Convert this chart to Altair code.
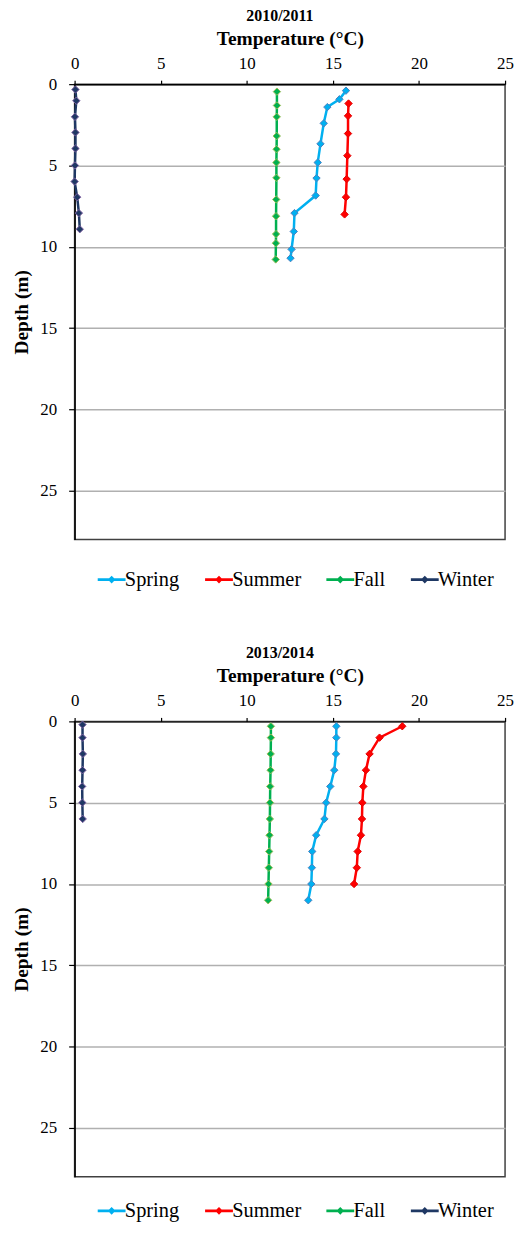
import altair as alt
import pandas as pd

seasons = ["Spring", "Summer", "Fall", "Winter"]
line_colors = ["#00B0F0", "#FF0000", "#00B050", "#1F3864"]
edge_colors = ["#4F81BD", "#E00000", "#9BBB59", "#8064A2"]
temp_ticks = [0, 5, 10, 15, 20, 25]
depth_ticks = [0, 5, 10, 15, 20, 25]

# ---- 2010/2011 ----
spring_a_depth = [0.4, 0.93, 1.41, 2.41, 3.67, 4.82, 5.78, 6.85, 7.93, 9.06, 10.16, 10.7]
spring_a_temp = [15.76, 15.38, 14.68, 14.47, 14.28, 14.12, 14.05, 14.0, 12.77, 12.73, 12.6, 12.54]
summer_a_depth = [1.19, 1.95, 3.04, 4.4, 5.84, 6.95, 8.01]
summer_a_temp = [15.91, 15.88, 15.88, 15.84, 15.8, 15.76, 15.68]
fall_a_depth = [0.46, 1.31, 2.01, 3.19, 4.0, 4.82, 5.76, 7.09, 8.12, 9.22, 9.78, 10.78]
fall_a_temp = [11.75, 11.75, 11.74, 11.74, 11.73, 11.72, 11.72, 11.71, 11.7, 11.7, 11.69, 11.68]
winter_a_depth = [0.33, 1.02, 2.01, 2.97, 3.96, 5.0, 5.99, 6.95, 7.93, 8.92]
winter_a_temp = [0.05, 0.1, 0.02, 0.05, 0.05, 0.02, 0.0, 0.15, 0.25, 0.3]

# ---- 2013/2014 ----
spring_b_depth = [0.3, 1, 2, 3, 4, 5, 6, 7, 8, 9, 10, 11]
spring_b_temp = [15.2, 15.2, 15.18, 15.08, 14.85, 14.61, 14.51, 14.03, 13.8, 13.78, 13.75, 13.57]
summer_b_depth = [0.3, 1, 2, 3, 4, 5, 6, 7, 8, 9, 10]
summer_b_temp = [19.03, 17.71, 17.13, 16.92, 16.77, 16.71, 16.69, 16.63, 16.44, 16.39, 16.23]
fall_b_depth = [0.3, 1, 2, 3, 4, 5, 6, 7, 8, 9, 10, 11]
fall_b_temp = [11.4, 11.4, 11.39, 11.38, 11.36, 11.35, 11.34, 11.32, 11.3, 11.28, 11.26, 11.24]
winter_b_depth = [0.2, 1, 2, 3, 4, 5, 6]
winter_b_temp = [0.46, 0.46, 0.48, 0.46, 0.44, 0.45, 0.47]


def make_df(series):
    rows = []
    for season, depths, temps in series:
        for d, t in zip(depths, temps):
            rows.append({"season": season, "depth": d, "temp": t})
    return pd.DataFrame(rows)


df_a = make_df([
    ("Spring", spring_a_depth, spring_a_temp),
    ("Summer", summer_a_depth, summer_a_temp),
    ("Fall", fall_a_depth, fall_a_temp),
    ("Winter", winter_a_depth, winter_a_temp),
])
df_b = make_df([
    ("Spring", spring_b_depth, spring_b_temp),
    ("Summer", summer_b_depth, summer_b_temp),
    ("Fall", fall_b_depth, fall_b_temp),
    ("Winter", winter_b_depth, winter_b_temp),
])

FONT = "Liberation Serif"
# symbol: line from -1 to 3 (scaled by 7 px) with a diamond at 1
legend_symbol = "M-1,-0.2H3V0.2H-1Z M1,-0.55L1.55,0L1,0.55L0.45,0Z"


def panel(df, title, legend_y):
    base = alt.Chart(df)
    x = alt.X(
        "temp:Q",
        scale=alt.Scale(domain=[0, 25], nice=False, zero=False),
        axis=alt.Axis(
            orient="top", values=temp_ticks, title="Temperature (°C)", grid=False,
            tickSize=4, labelPadding=8, titlePadding=6, labelFlush=False,
        ),
    )
    y = alt.Y(
        "depth:Q",
        scale=alt.Scale(domain=[0, 28], reverse=True, nice=False, zero=False),
        axis=alt.Axis(
            values=depth_ticks, title="Depth (m)", grid=True, labelFlush=False,
            tickSize=6, labelPadding=12, titlePadding=8,
        ),
    )
    lines = base.mark_line(strokeWidth=2.5).encode(
        x=x, y=y,
        stroke=alt.Stroke("season:N", scale=alt.Scale(domain=seasons, range=line_colors), legend=None),
        order="depth:Q",
    )
    pts = base.mark_point(shape="diamond", filled=True, size=55, opacity=1, strokeWidth=1).encode(
        x=x, y=y,
        color=alt.Color(
            "season:N",
            scale=alt.Scale(domain=seasons, range=line_colors),
            legend=alt.Legend(
                orient="none", legendX=20, legendY=legend_y, direction="horizontal", title=None,
                symbolType=legend_symbol, symbolSize=196, symbolStrokeWidth=0,
                labelFont=FONT, labelFontSize=20.5, labelColor="black",
                labelOffset=10, columnPadding=22, padding=0,
            ),
        ),
        stroke=alt.Stroke("season:N", scale=alt.Scale(domain=seasons, range=edge_colors), legend=None),
    )
    return (
        alt.layer(lines, pts)
        .resolve_scale(stroke="independent")
        .properties(
            width=433, height=458,
            title=alt.TitleParams(title, fontSize=16, font=FONT, fontWeight="bold", color="black",
                                  anchor="middle", dx=-10, offset=5),
        )
    )


chart = (
    alt.vconcat(panel(df_a, "2010/2011", 488), panel(df_b, "2013/2014", 482), spacing=53)
    .resolve_scale(color="independent")
    .properties(padding={"left": 3, "top": -5, "right": 0, "bottom": 0})
    .configure_view(stroke="#404040", strokeWidth=1.5)
    .configure_axis(
        labelFont=FONT, labelFontSize=17, labelColor="black",
        titleFont=FONT, titleFontSize=19.5, titleFontWeight="bold", titleColor="black",
        domainColor="black", domainWidth=1.5, tickColor="black", tickWidth=1.2,
        gridColor="#B0B0B0", gridWidth=1.5,
    )
)

chart.save("out.html", embed_options={"renderer": "svg", "actions": False})
